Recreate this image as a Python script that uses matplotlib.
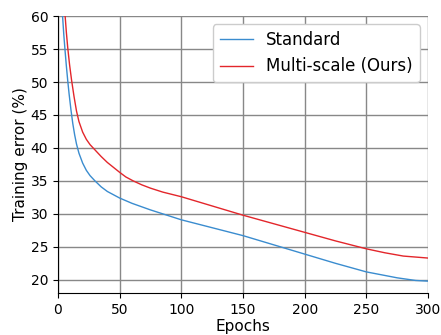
import matplotlib
matplotlib.use("Agg")
import matplotlib.pyplot as plt

# training error curves
std_epochs = [1, 2, 3, 3.7, 4.7, 5.8, 6.8, 7.9, 9, 10.5, 12, 13.5, 15, 17, 20,
              23, 26, 30, 35, 40, 50, 60, 75, 85, 100, 125, 150, 175, 200,
              225, 250, 275, 290, 300]
std_error = [71, 66, 62.2, 60, 57.2, 54.6, 52.4, 50.2, 48.2, 45.8, 43.7, 42.0,
             40.6, 39.2, 37.7, 36.6, 35.8, 35.0, 34.1, 33.4, 32.4, 31.6, 30.6,
             30.0, 29.1, 27.9, 26.7, 25.3, 23.9, 22.5, 21.2, 20.3, 19.9, 19.8]

ms_epochs = [1, 3, 4, 5, 5.8, 6.8, 7.9, 9.4, 11, 13, 15, 17, 20, 23, 26, 30,
             35, 40, 50, 55, 61, 68, 75, 85, 100, 125, 150, 175, 200, 225,
             250, 265, 280, 300]
ms_error = [76, 67.5, 64.5, 62, 60, 57.5, 55.2, 52.6, 50.3, 47.8, 45.6, 44.0,
            42.4, 41.3, 40.5, 39.7, 38.7, 37.8, 36.3, 35.6, 35.0, 34.4, 33.9,
            33.3, 32.6, 31.2, 29.8, 28.5, 27.2, 25.9, 24.7, 24.1, 23.6, 23.3]

fig = plt.figure(figsize=(4.41, 3.35), dpi=100)
ax = fig.add_axes([0.1315, 0.1254, 0.839, 0.8266])
ax.plot(std_epochs, std_error, color="#3a8ccf", linewidth=1.0, label="Standard")
ax.plot(ms_epochs, ms_error, color="#e3262b", linewidth=1.0, label="Multi-scale (Ours)")
ax.set_xlim(0, 300)
ax.set_ylim(18, 60)
ax.set_xticks([0, 50, 100, 150, 200, 250, 300])
ax.set_yticks([20, 25, 30, 35, 40, 45, 50, 55, 60])
ax.grid(True, color="#888888", linewidth=1.0)
ax.set_axisbelow(True)
ax.spines["top"].set_visible(False)
ax.spines["right"].set_visible(False)
ax.set_xlabel("Epochs", fontsize=11, labelpad=2)
ax.set_ylabel("Training error (%)", fontsize=11, labelpad=2)
ax.tick_params(labelsize=10)
ax.legend(loc="upper right", fontsize=12, framealpha=1.0, borderaxespad=0.5)

fig.savefig("out.png", dpi=100)
